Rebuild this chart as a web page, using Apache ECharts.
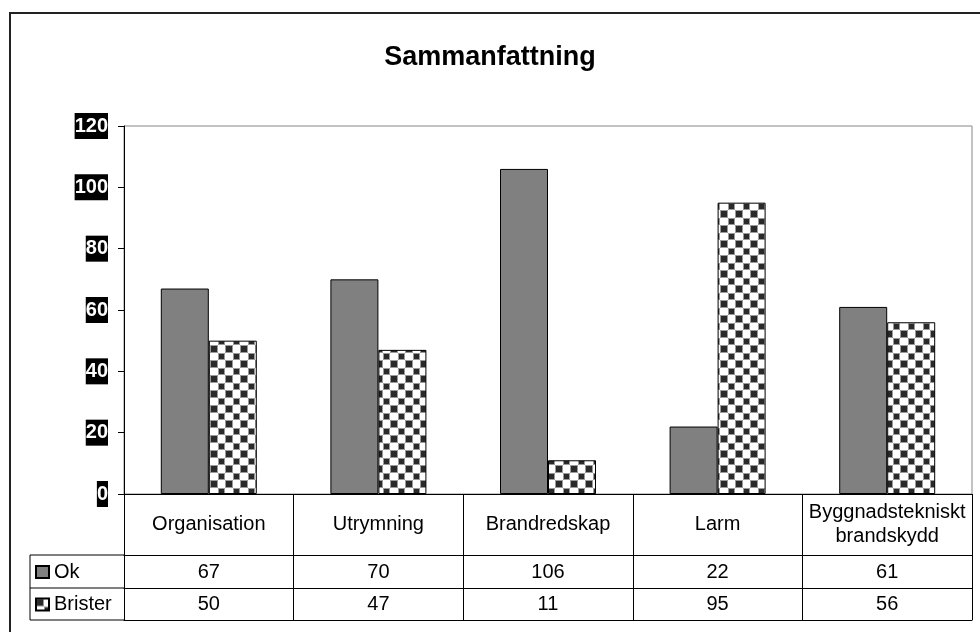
<!DOCTYPE html>
<html>
<head>
<meta charset="utf-8">
<script src="https://cdn.jsdelivr.net/npm/echarts@6/dist/echarts.min.js"></script>
<style>
html,body{margin:0;padding:0;background:#fff;}
#c{width:980px;height:632px;}
</style>
</head>
<body>
<div id="c"></div>
<script>
const categories = ['Organisation', 'Utrymning', 'Brandredskap', 'Larm', 'Byggnadstekniskt\nbrandskydd'];
const seriesNames = ['Ok', 'Brister'];
const ok = [67, 70, 106, 22, 61];
const brister = [50, 47, 11, 95, 56];
const yTicks = { min: 0, max: 120, interval: 20 };

const FONT = 'Arial, "Liberation Sans", sans-serif';
const G = { left: 124, right: 8, top: 126, bottom: 138 };
const W = 980, H = 632;
const zeroY = H - G.bottom;

// checkerboard pattern
const pc = document.createElement('canvas');
pc.width = 15; pc.height = 15;
const px = pc.getContext('2d');
px.fillStyle = '#ffffff'; px.fillRect(0, 0, 15, 15);
px.fillStyle = '#9a9a9a';
px.fillRect(0, 0, 8, 8); px.fillRect(8, 8, 7, 7);
px.fillStyle = '#2a2a2a';
px.fillRect(1, 1, 6, 6); px.fillRect(9, 9, 5, 5);

const chart = echarts.init(document.getElementById('c'), null, { renderer: 'canvas' });

const baseLbl = { fontFamily: FONT, fontSize: 20, color: '#000', verticalAlign: 'middle', interval: 0 };

chart.setOption({
  animation: false,
  backgroundColor: '#fff',
  title: {
    text: 'Sammanfattning', left: 'center', top: 43, padding: 0,
    textStyle: { fontFamily: FONT, fontSize: 27, fontWeight: 'bold', color: '#000', lineHeight: 30 }
  },
  legend: {
    orient: 'vertical', left: 35, top: 561, itemGap: 10.5, padding: 0,
    itemWidth: 13, itemHeight: 12, icon: 'rect',
    textStyle: { fontFamily: FONT, fontSize: 20, color: '#000', lineHeight: 22 },
    data: seriesNames
  },
  grid: { left: G.left, right: G.right, top: G.top, bottom: G.bottom, show: true, borderColor: '#888', borderWidth: 1, backgroundColor: 'transparent' },
  xAxis: [
    {
      type: 'category', data: categories, position: 'bottom',
      axisLine: { show: true, lineStyle: { color: '#000', width: 1 } },
      axisTick: { show: true, length: 126, interval: 0, lineStyle: { color: '#000', width: 1 } },
      axisLabel: Object.assign({}, baseLbl, { margin: 30.5, lineHeight: 24 }),
      splitLine: { show: false }
    },
    {
      type: 'category', data: categories, position: 'bottom', offset: 61,
      axisLine: { show: true, lineStyle: { color: '#000', width: 1 } },
      axisTick: { show: false },
      axisLabel: Object.assign({}, baseLbl, { margin: 17, formatter: (v, i) => String(ok[i]) })
    },
    {
      type: 'category', data: categories, position: 'bottom', offset: 94,
      axisLine: { show: true, lineStyle: { color: '#000', width: 1 } },
      axisTick: { show: false },
      axisLabel: Object.assign({}, baseLbl, { margin: 16.5, formatter: (v, i) => String(brister[i]) })
    },
    {
      type: 'category', data: categories, position: 'bottom', offset: 126,
      axisLine: { show: true, lineStyle: { color: '#000', width: 1 } },
      axisTick: { show: false },
      axisLabel: { show: false }
    }
  ],
  yAxis: {
    type: 'value', min: yTicks.min, max: yTicks.max, interval: yTicks.interval,
    axisLine: { show: true, lineStyle: { color: '#000', width: 1 } },
    axisTick: { show: true, length: 6, lineStyle: { color: '#000' } },
    splitLine: { show: false },
    axisLabel: {
      margin: 16, fontFamily: FONT, fontSize: 20, fontWeight: 'bold', color: '#fff',
      backgroundColor: '#000', padding: [1, 0, 1, 0], lineHeight: 24
    }
  },
  series: [
    {
      name: seriesNames[0], type: 'bar', data: ok, xAxisIndex: 0,
      barGap: '0%', barCategoryGap: '43.4%',
      itemStyle: { color: '#808080', borderColor: '#000', borderWidth: 1 }
    },
    {
      name: seriesNames[1], type: 'bar', data: brister, xAxisIndex: 0,
      barGap: '0%', barCategoryGap: '43.4%',
      itemStyle: { color: { image: pc, repeat: 'repeat' }, borderColor: '#000', borderWidth: 1 }
    }
  ],
  graphic: [
    { type: 'polyline', shape: { points: [[10, H], [10, 13], [W, 13]] }, style: { stroke: '#222', lineWidth: 2, fill: null }, silent: true },
    { type: 'polyline', shape: { points: [[G.left, zeroY + 61], [30, zeroY + 61], [30, zeroY + 126], [G.left, zeroY + 126]] }, style: { stroke: '#000', lineWidth: 1, fill: null }, silent: true },
    { type: 'line', shape: { x1: 30, y1: zeroY + 94, x2: G.left, y2: zeroY + 94 }, style: { stroke: '#000', lineWidth: 1 }, silent: true }
  ]
});
</script>
</body>
</html>
